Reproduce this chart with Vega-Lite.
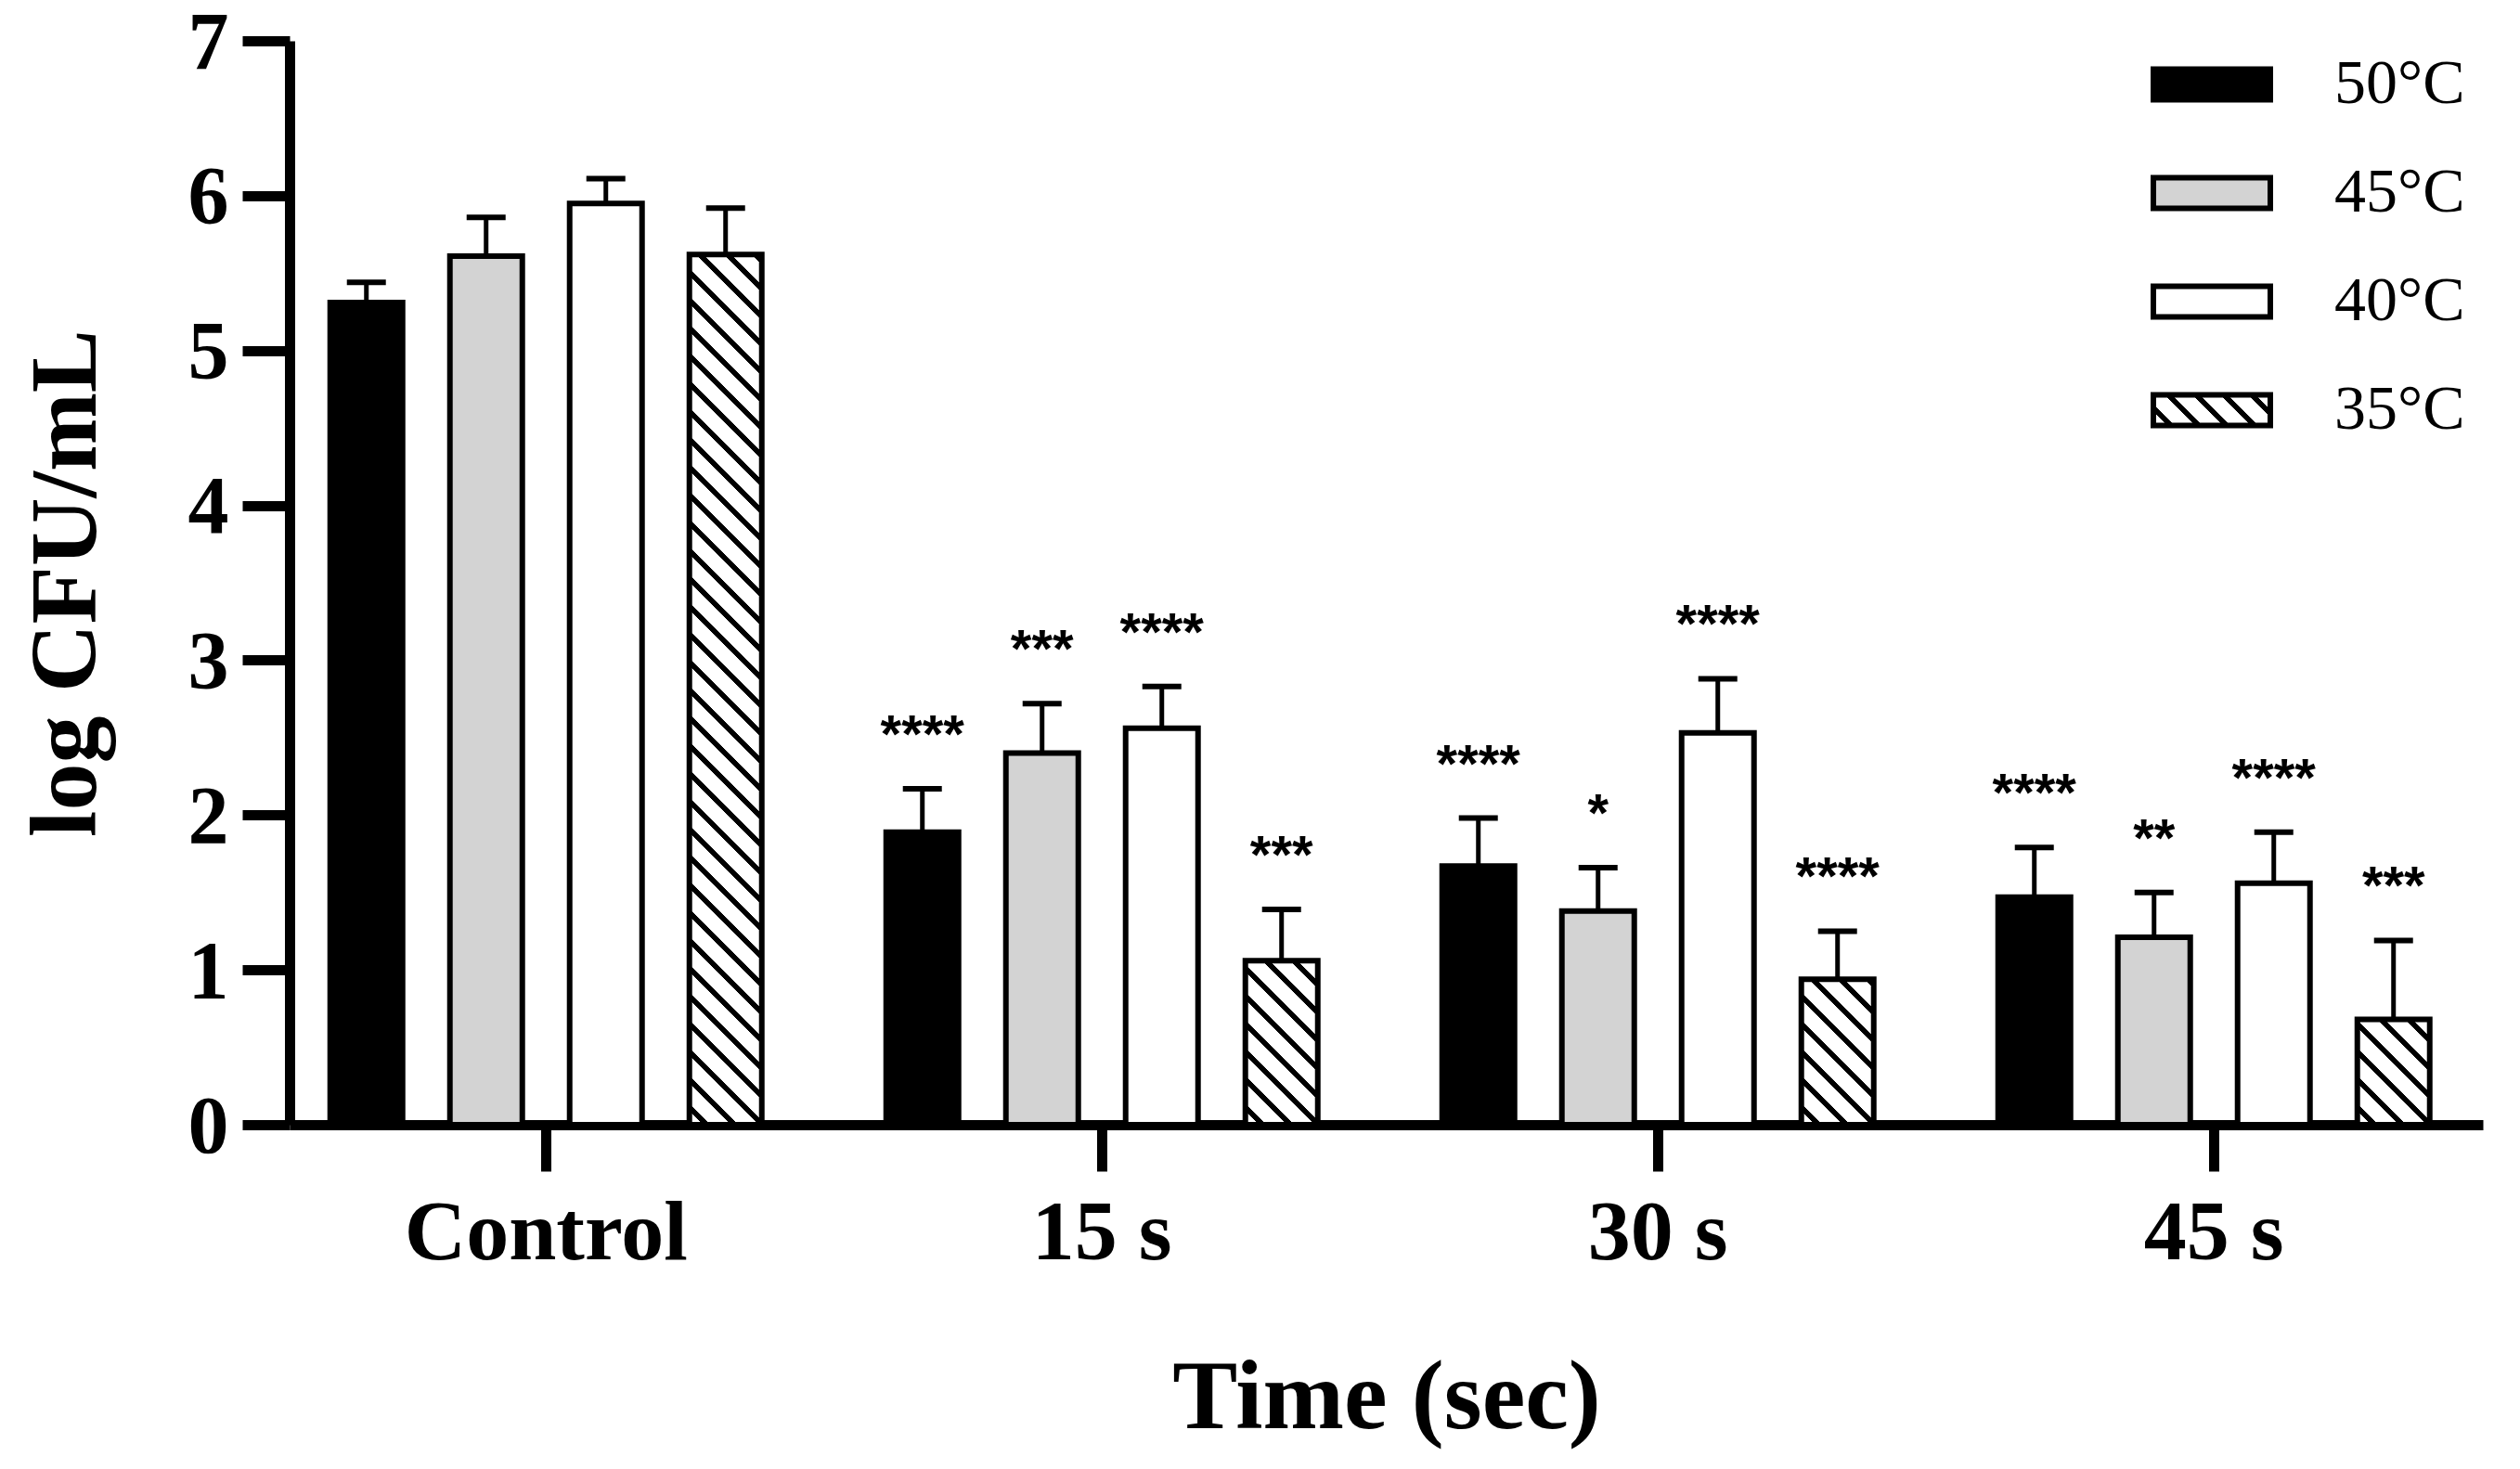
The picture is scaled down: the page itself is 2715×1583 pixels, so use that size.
{
  "$schema": "https://vega.github.io/schema/vega-lite/v6.json",
  "width": 2363,
  "height": 1168,
  "autosize": {"type": "none"},
  "padding": {"left": 312, "top": 44, "right": 40, "bottom": 371},
  "background": "white",
  "config": {"view": {"stroke": null}, "font": "Liberation Serif"},
  "data": {
    "values": [
      {"time": "Control", "temp": "50°C", "mean": 5.31, "upper": 5.44, "sig": ""},
      {"time": "Control", "temp": "45°C", "mean": 5.61, "upper": 5.86, "sig": ""},
      {"time": "Control", "temp": "40°C", "mean": 5.95, "upper": 6.11, "sig": ""},
      {"time": "Control", "temp": "35°C", "mean": 5.62, "upper": 5.92, "sig": ""},
      {"time": "15 s", "temp": "50°C", "mean": 1.89, "upper": 2.17, "sig": "****"},
      {"time": "15 s", "temp": "45°C", "mean": 2.40, "upper": 2.72, "sig": "***"},
      {"time": "15 s", "temp": "40°C", "mean": 2.56, "upper": 2.83, "sig": "****"},
      {"time": "15 s", "temp": "35°C", "mean": 1.06, "upper": 1.39, "sig": "***"},
      {"time": "30 s", "temp": "50°C", "mean": 1.67, "upper": 1.98, "sig": "****"},
      {"time": "30 s", "temp": "45°C", "mean": 1.38, "upper": 1.66, "sig": "*"},
      {"time": "30 s", "temp": "40°C", "mean": 2.53, "upper": 2.88, "sig": "****"},
      {"time": "30 s", "temp": "35°C", "mean": 0.94, "upper": 1.25, "sig": "****"},
      {"time": "45 s", "temp": "50°C", "mean": 1.47, "upper": 1.79, "sig": "****"},
      {"time": "45 s", "temp": "45°C", "mean": 1.21, "upper": 1.50, "sig": "**"},
      {"time": "45 s", "temp": "40°C", "mean": 1.56, "upper": 1.89, "sig": "****"},
      {"time": "45 s", "temp": "35°C", "mean": 0.68, "upper": 1.19, "sig": "***"}
    ]
  },
  "encoding": {
    "x": {
      "field": "time",
      "type": "nominal",
      "sort": ["Control", "15 s", "30 s", "45 s"],
      "scale": {"paddingInner": 0.2237, "paddingOuter": 0.0843, "align": 0.433},
      "axis": {
        "title": "Time (sec)",
        "labelAngle": 0,
        "labelFont": "Liberation Serif",
        "labelFontSize": 92,
        "labelFontWeight": "bold",
        "labelColor": "black",
        "labelBaseline": "alphabetic",
        "labelPadding": 94,
        "labelFlush": false,
        "labelOverlap": false,
        "labelLimit": 0,
        "tickSize": 50,
        "tickWidth": 11,
        "tickColor": "black",
        "domainWidth": 11,
        "domainColor": "black",
        "grid": false,
        "titleFont": "Liberation Serif",
        "titleFontSize": 105,
        "titleFontWeight": "bold",
        "titleColor": "black",
        "titleBaseline": "alphabetic",
        "titleY": 326
      }
    },
    "xOffset": {
      "field": "temp",
      "type": "nominal",
      "sort": ["50°C", "45°C", "40°C", "35°C"],
      "scale": {"paddingInner": 0.3953, "paddingOuter": 0}
    }
  },
  "layer": [
    {
      "mark": {"type": "rule", "strokeWidth": 5, "color": "black"},
      "encoding": {
        "y": {
          "field": "upper",
          "type": "quantitative",
          "scale": {"domain": [0, 7], "nice": false, "zero": true},
          "axis": {
            "title": "log CFU/mL",
            "values": [0, 1, 2, 3, 4, 5, 6, 7],
            "format": "d",
            "grid": false,
            "tickSize": 51,
            "tickWidth": 11,
            "tickColor": "black",
            "domainWidth": 11,
            "domainColor": "black",
            "labelPadding": 15,
            "labelOffset": 3,
            "labelFont": "Liberation Serif",
            "labelFontSize": 88,
            "labelFontWeight": "bold",
            "labelColor": "black",
            "labelFlush": false,
            "labelOverlap": false,
            "titleFont": "Liberation Serif",
            "titleFontSize": 102,
            "titleFontWeight": "bold",
            "titleColor": "black",
            "titleAngle": -90,
            "titleAlign": "center",
            "titleBaseline": "alphabetic",
            "titleX": -210,
            "titleY": 584
          }
        },
        "y2": {"field": "mean"}
      }
    },
    {
      "mark": {"type": "tick", "size": 42, "thickness": 6, "color": "black", "opacity": 1},
      "encoding": {
        "y": {"field": "upper", "type": "quantitative"}
      }
    },
    {
      "mark": {"type": "bar", "stroke": "black", "strokeWidth": 6, "opacity": 1},
      "encoding": {
        "y": {"field": "mean", "type": "quantitative"},
        "fill": {
          "field": "temp",
          "type": "nominal",
          "sort": ["50°C", "45°C", "40°C", "35°C"],
          "scale": {
            "domain": ["50°C", "45°C", "40°C", "35°C"],
            "range": [
              "black",
              "#d3d3d3",
              "white",
              {"expr": "{gradient: 'linear', x1: 0, y1: 1, x2: 1.1803, y2: 0.6927, stops: [{offset: 0, color: 'white'}, {offset: 0.0945, color: 'white'}, {offset: 0.0945, color: 'black'}, {offset: 0.1425, color: 'black'}, {offset: 0.1425, color: 'white'}, {offset: 0.2834, color: 'white'}, {offset: 0.2834, color: 'black'}, {offset: 0.3315, color: 'black'}, {offset: 0.3315, color: 'white'}, {offset: 0.4723, color: 'white'}, {offset: 0.4723, color: 'black'}, {offset: 0.5204, color: 'black'}, {offset: 0.5204, color: 'white'}, {offset: 0.6612, color: 'white'}, {offset: 0.6612, color: 'black'}, {offset: 0.7093, color: 'black'}, {offset: 0.7093, color: 'white'}, {offset: 0.8501, color: 'white'}, {offset: 0.8501, color: 'black'}, {offset: 0.8982, color: 'black'}, {offset: 0.8982, color: 'white'}, {offset: 1, color: 'white'}]}"}
            ]
          },
          "condition": [
            {
              "test": "datum.temp === '35°C' && datum.time === 'Control'",
              "value": {
                "gradient": "linear", "x1": 0, "y1": 1, "x2": 0.0895, "y2": -0.0757,
                "stops": [
                  {"offset": 0, "color": "white"},
                  {"offset": 0.0148, "color": "white"}, {"offset": 0.0148, "color": "black"}, {"offset": 0.0226, "color": "black"}, {"offset": 0.0226, "color": "white"},
                  {"offset": 0.0443, "color": "white"}, {"offset": 0.0443, "color": "black"}, {"offset": 0.0522, "color": "black"}, {"offset": 0.0522, "color": "white"},
                  {"offset": 0.0738, "color": "white"}, {"offset": 0.0738, "color": "black"}, {"offset": 0.0817, "color": "black"}, {"offset": 0.0817, "color": "white"},
                  {"offset": 0.1033, "color": "white"}, {"offset": 0.1033, "color": "black"}, {"offset": 0.1112, "color": "black"}, {"offset": 0.1112, "color": "white"},
                  {"offset": 0.1329, "color": "white"}, {"offset": 0.1329, "color": "black"}, {"offset": 0.1407, "color": "black"}, {"offset": 0.1407, "color": "white"},
                  {"offset": 0.1624, "color": "white"}, {"offset": 0.1624, "color": "black"}, {"offset": 0.1703, "color": "black"}, {"offset": 0.1703, "color": "white"},
                  {"offset": 0.1919, "color": "white"}, {"offset": 0.1919, "color": "black"}, {"offset": 0.1998, "color": "black"}, {"offset": 0.1998, "color": "white"},
                  {"offset": 0.2215, "color": "white"}, {"offset": 0.2215, "color": "black"}, {"offset": 0.2293, "color": "black"}, {"offset": 0.2293, "color": "white"},
                  {"offset": 0.2510, "color": "white"}, {"offset": 0.2510, "color": "black"}, {"offset": 0.2589, "color": "black"}, {"offset": 0.2589, "color": "white"},
                  {"offset": 0.2805, "color": "white"}, {"offset": 0.2805, "color": "black"}, {"offset": 0.2884, "color": "black"}, {"offset": 0.2884, "color": "white"},
                  {"offset": 0.3100, "color": "white"}, {"offset": 0.3100, "color": "black"}, {"offset": 0.3179, "color": "black"}, {"offset": 0.3179, "color": "white"},
                  {"offset": 0.3396, "color": "white"}, {"offset": 0.3396, "color": "black"}, {"offset": 0.3474, "color": "black"}, {"offset": 0.3474, "color": "white"},
                  {"offset": 0.3691, "color": "white"}, {"offset": 0.3691, "color": "black"}, {"offset": 0.3770, "color": "black"}, {"offset": 0.3770, "color": "white"},
                  {"offset": 0.3986, "color": "white"}, {"offset": 0.3986, "color": "black"}, {"offset": 0.4065, "color": "black"}, {"offset": 0.4065, "color": "white"},
                  {"offset": 0.4281, "color": "white"}, {"offset": 0.4281, "color": "black"}, {"offset": 0.4360, "color": "black"}, {"offset": 0.4360, "color": "white"},
                  {"offset": 0.4577, "color": "white"}, {"offset": 0.4577, "color": "black"}, {"offset": 0.4655, "color": "black"}, {"offset": 0.4655, "color": "white"},
                  {"offset": 0.4872, "color": "white"}, {"offset": 0.4872, "color": "black"}, {"offset": 0.4951, "color": "black"}, {"offset": 0.4951, "color": "white"},
                  {"offset": 0.5167, "color": "white"}, {"offset": 0.5167, "color": "black"}, {"offset": 0.5246, "color": "black"}, {"offset": 0.5246, "color": "white"},
                  {"offset": 0.5463, "color": "white"}, {"offset": 0.5463, "color": "black"}, {"offset": 0.5541, "color": "black"}, {"offset": 0.5541, "color": "white"},
                  {"offset": 0.5758, "color": "white"}, {"offset": 0.5758, "color": "black"}, {"offset": 0.5837, "color": "black"}, {"offset": 0.5837, "color": "white"},
                  {"offset": 0.6053, "color": "white"}, {"offset": 0.6053, "color": "black"}, {"offset": 0.6132, "color": "black"}, {"offset": 0.6132, "color": "white"},
                  {"offset": 0.6348, "color": "white"}, {"offset": 0.6348, "color": "black"}, {"offset": 0.6427, "color": "black"}, {"offset": 0.6427, "color": "white"},
                  {"offset": 0.6644, "color": "white"}, {"offset": 0.6644, "color": "black"}, {"offset": 0.6722, "color": "black"}, {"offset": 0.6722, "color": "white"},
                  {"offset": 0.6939, "color": "white"}, {"offset": 0.6939, "color": "black"}, {"offset": 0.7018, "color": "black"}, {"offset": 0.7018, "color": "white"},
                  {"offset": 0.7234, "color": "white"}, {"offset": 0.7234, "color": "black"}, {"offset": 0.7313, "color": "black"}, {"offset": 0.7313, "color": "white"},
                  {"offset": 0.7530, "color": "white"}, {"offset": 0.7530, "color": "black"}, {"offset": 0.7608, "color": "black"}, {"offset": 0.7608, "color": "white"},
                  {"offset": 0.7825, "color": "white"}, {"offset": 0.7825, "color": "black"}, {"offset": 0.7904, "color": "black"}, {"offset": 0.7904, "color": "white"},
                  {"offset": 0.8120, "color": "white"}, {"offset": 0.8120, "color": "black"}, {"offset": 0.8199, "color": "black"}, {"offset": 0.8199, "color": "white"},
                  {"offset": 0.8415, "color": "white"}, {"offset": 0.8415, "color": "black"}, {"offset": 0.8494, "color": "black"}, {"offset": 0.8494, "color": "white"},
                  {"offset": 0.8711, "color": "white"}, {"offset": 0.8711, "color": "black"}, {"offset": 0.8789, "color": "black"}, {"offset": 0.8789, "color": "white"},
                  {"offset": 0.9006, "color": "white"}, {"offset": 0.9006, "color": "black"}, {"offset": 0.9085, "color": "black"}, {"offset": 0.9085, "color": "white"},
                  {"offset": 0.9301, "color": "white"}, {"offset": 0.9301, "color": "black"}, {"offset": 0.9380, "color": "black"}, {"offset": 0.9380, "color": "white"},
                  {"offset": 0.9596, "color": "white"}, {"offset": 0.9596, "color": "black"}, {"offset": 0.9675, "color": "black"}, {"offset": 0.9675, "color": "white"},
                  {"offset": 0.9892, "color": "white"}, {"offset": 0.9892, "color": "black"}, {"offset": 0.9970, "color": "black"}, {"offset": 0.9970, "color": "white"},
                  {"offset": 1, "color": "white"}
                ]
              }
            },
            {
              "test": "datum.temp === '35°C' && datum.time === '15 s'",
              "value": {
                "gradient": "linear", "x1": 0, "y1": 1, "x2": 0.5319, "y2": -0.2064,
                "stops": [
                  {"offset": 0, "color": "white"},
                  {"offset": 0.0588, "color": "white"}, {"offset": 0.0588, "color": "black"}, {"offset": 0.0902, "color": "black"}, {"offset": 0.0902, "color": "white"},
                  {"offset": 0.1765, "color": "white"}, {"offset": 0.1765, "color": "black"}, {"offset": 0.2079, "color": "black"}, {"offset": 0.2079, "color": "white"},
                  {"offset": 0.2942, "color": "white"}, {"offset": 0.2942, "color": "black"}, {"offset": 0.3256, "color": "black"}, {"offset": 0.3256, "color": "white"},
                  {"offset": 0.4119, "color": "white"}, {"offset": 0.4119, "color": "black"}, {"offset": 0.4433, "color": "black"}, {"offset": 0.4433, "color": "white"},
                  {"offset": 0.5296, "color": "white"}, {"offset": 0.5296, "color": "black"}, {"offset": 0.5610, "color": "black"}, {"offset": 0.5610, "color": "white"},
                  {"offset": 0.6473, "color": "white"}, {"offset": 0.6473, "color": "black"}, {"offset": 0.6787, "color": "black"}, {"offset": 0.6787, "color": "white"},
                  {"offset": 0.7650, "color": "white"}, {"offset": 0.7650, "color": "black"}, {"offset": 0.7964, "color": "black"}, {"offset": 0.7964, "color": "white"},
                  {"offset": 0.8827, "color": "white"}, {"offset": 0.8827, "color": "black"}, {"offset": 0.9141, "color": "black"}, {"offset": 0.9141, "color": "white"},
                  {"offset": 1, "color": "white"}
                ]
              }
            },
            {
              "test": "datum.temp === '35°C' && datum.time === '30 s'",
              "value": {
                "gradient": "linear", "x1": 0, "y1": 1, "x2": 0.5968, "y2": -0.2004,
                "stops": [
                  {"offset": 0, "color": "white"},
                  {"offset": 0.0639, "color": "white"}, {"offset": 0.0639, "color": "black"}, {"offset": 0.0980, "color": "black"}, {"offset": 0.0980, "color": "white"},
                  {"offset": 0.1916, "color": "white"}, {"offset": 0.1916, "color": "black"}, {"offset": 0.2257, "color": "black"}, {"offset": 0.2257, "color": "white"},
                  {"offset": 0.3193, "color": "white"}, {"offset": 0.3193, "color": "black"}, {"offset": 0.3534, "color": "black"}, {"offset": 0.3534, "color": "white"},
                  {"offset": 0.4470, "color": "white"}, {"offset": 0.4470, "color": "black"}, {"offset": 0.4811, "color": "black"}, {"offset": 0.4811, "color": "white"},
                  {"offset": 0.5747, "color": "white"}, {"offset": 0.5747, "color": "black"}, {"offset": 0.6088, "color": "black"}, {"offset": 0.6088, "color": "white"},
                  {"offset": 0.7024, "color": "white"}, {"offset": 0.7024, "color": "black"}, {"offset": 0.7365, "color": "black"}, {"offset": 0.7365, "color": "white"},
                  {"offset": 0.8301, "color": "white"}, {"offset": 0.8301, "color": "black"}, {"offset": 0.8642, "color": "black"}, {"offset": 0.8642, "color": "white"},
                  {"offset": 0.9579, "color": "white"}, {"offset": 0.9579, "color": "black"}, {"offset": 0.9920, "color": "black"}, {"offset": 0.9920, "color": "white"},
                  {"offset": 1, "color": "white"}
                ]
              }
            },
            {
              "test": "datum.temp === '35°C' && datum.time === '45 s'",
              "value": {
                "gradient": "linear", "x1": 0, "y1": 1, "x2": 0.7876, "y2": -0.1460,
                "stops": [
                  {"offset": 0, "color": "white"},
                  {"offset": 0.0783, "color": "white"}, {"offset": 0.0783, "color": "black"}, {"offset": 0.1201, "color": "black"}, {"offset": 0.1201, "color": "white"},
                  {"offset": 0.2350, "color": "white"}, {"offset": 0.2350, "color": "black"}, {"offset": 0.2768, "color": "black"}, {"offset": 0.2768, "color": "white"},
                  {"offset": 0.3916, "color": "white"}, {"offset": 0.3916, "color": "black"}, {"offset": 0.4334, "color": "black"}, {"offset": 0.4334, "color": "white"},
                  {"offset": 0.5483, "color": "white"}, {"offset": 0.5483, "color": "black"}, {"offset": 0.5901, "color": "black"}, {"offset": 0.5901, "color": "white"},
                  {"offset": 0.7050, "color": "white"}, {"offset": 0.7050, "color": "black"}, {"offset": 0.7468, "color": "black"}, {"offset": 0.7468, "color": "white"},
                  {"offset": 0.8616, "color": "white"}, {"offset": 0.8616, "color": "black"}, {"offset": 0.9034, "color": "black"}, {"offset": 0.9034, "color": "white"},
                  {"offset": 1, "color": "white"}
                ]
              }
            }
          ],
          "legend": {
            "title": null,
            "orient": "none",
            "legendX": 2005,
            "legendY": -19,
            "padding": 0,
            "symbolType": "M-1,-0.26H1V0.26H-1Z",
            "symbolSize": 15876,
            "symbolStrokeColor": "black",
            "symbolStrokeWidth": 6,
            "symbolOpacity": 1,
            "labelFont": "Liberation Serif",
            "labelFontSize": 68,
            "labelColor": "black",
            "labelOffset": 66,
            "labelLimit": 0,
            "rowPadding": 17
          }
        }
      }
    },
    {
      "mark": {"type": "text", "font": "Liberation Sans", "fontSize": 58, "fontWeight": "bold", "color": "black", "baseline": "alphabetic", "align": "center", "dy": -39},
      "encoding": {
        "y": {"field": "upper", "type": "quantitative"},
        "text": {"field": "sig"}
      }
    }
  ]
}
